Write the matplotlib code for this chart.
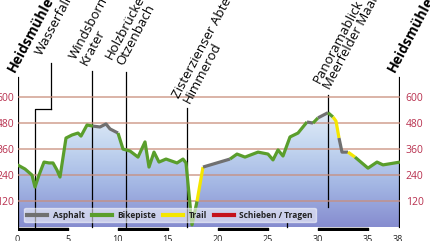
import numpy as np
import matplotlib.pyplot as plt
from matplotlib.lines import Line2D
from matplotlib.patches import Polygon
from matplotlib.colors import LinearSegmentedColormap

plt.rcParams['font.family'] = ['Open Sans', 'DejaVu Sans']

# Höhenprofil: Strecke in km, Höhe in m
profile_km = [0.0, 0.75, 1.45, 1.75, 2.15, 2.65, 3.15, 3.55, 3.95, 4.25,
              4.85, 5.45, 6.05, 6.35, 6.95, 7.55, 8.25, 8.85, 9.25, 10.05,
              10.55, 11.25, 12.05, 12.75, 13.15, 13.65, 14.15, 14.85, 15.95, 16.55,
              16.85, 17.45, 17.95, 18.55, 21.25, 21.95, 22.75, 24.05, 25.05, 25.55,
              26.05, 26.55, 27.25, 28.05, 28.95, 29.55, 30.05, 31.05, 31.55, 31.85,
              32.15, 32.45, 33.05, 33.75, 35.05, 35.95, 36.55, 38.25]
profile_elev = [288, 269, 241, 186, 241, 301, 297, 297, 264, 232,
                412, 426, 435, 421, 472, 467, 463, 477, 454, 435,
                361, 352, 324, 394, 278, 347, 301, 315, 297, 315,
                297, 11, 120, 278, 315, 338, 324, 347, 338, 311,
                357, 329, 417, 435, 486, 481, 505, 529, 509, 490,
                412, 347, 347, 324, 273, 301, 288, 301]
# Belag je Abschnitt (A=Asphalt, B=Bikepiste, T=Trail, S=Schieben)
surface = ('B' * 15 + 'A' * 4 + 'B' * 13 + 'T' + 'A' + 'B' * 10 + 'A' + 'B' + 'A' + 'B'
           + 'TT' + 'AA' + 'T' + 'B' * 4)

surface_keys = ['A', 'B', 'T', 'S']
surface_labels = ['Asphalt', 'Bikepiste', 'Trail', 'Schieben / Tragen']
surface_colors = ['#707070', '#5a9e2c', '#f4e600', '#c4121c']

# Orte
place_names = ['Heidsmühle', 'Wasserfall', 'Windsborn\nKrater', 'Holzbrücke\nOtzenbach',
               'Zisterzienser Abtei\nHimmerod', 'Panoramablick\nMeerfelder Maar', 'Heidsmühle']
place_km = [0.0, 3.35, 7.48, 10.82, 16.95, 31.05, 38.25]
place_top = [689, 758, 721, 717, 552, 611, 689]
place_bottom = [0, 544, 0, 0, 0, 94, 0]

km_ticks = [0, 5, 10, 15, 20, 25, 30, 35, 38]
elev_ticks = [120, 240, 360, 480, 600]

xmax = 38.25
ymin, ymax = -18, 1049

fig = plt.figure(figsize=(4.3, 2.41), dpi=100)
ax = fig.add_axes([17.5 / 430, (241 - 231.2) / 241, 382.5 / 430, 231.2 / 241])

# Verlaufsfüllung unter dem Profil
verts = list(zip(profile_km, profile_elev)) + [(profile_km[-1], 0), (profile_km[0], 0)]
poly = Polygon(verts, closed=True, facecolor='none', edgecolor='none')
ax.add_patch(poly)
cmap = LinearSegmentedColormap.from_list('fill', ['#868ccf', '#a2b5e3', '#c4d7f0', '#e8f0f9'])
grad = np.linspace(0, 1, 256).reshape(-1, 1)
im = ax.imshow(grad, extent=(0, xmax, 0, 560), origin='lower', cmap=cmap,
               aspect='auto', zorder=1)
im.set_clip_path(poly)

# Ortsmarkierungen
for i, name in enumerate(place_names):
    x = place_km[i]
    lw = 1.6 if name == 'Heidsmühle' else 0.9
    ax.plot([x, x], [place_bottom[i], place_top[i]], color='black', lw=lw, zorder=2)
# Wasserfall: Knick zur eigentlichen Stelle
ax.plot([place_km[1], 1.75, 1.75], [place_bottom[1], place_bottom[1], 0],
        color='black', lw=0.9, zorder=2)
# kleine Marke am Boden
ax.plot([26.95, 26.95], [0, 22], color='black', lw=0.9, zorder=2)

offsets = [(-3, 5), (-9, 7), (-5, 5), (-2, 6), (3, 3), (3, 5), (-5, 5)]
for i, name in enumerate(place_names):
    bold = name == 'Heidsmühle'
    dx, dy = offsets[i]
    ax.annotate(name, xy=(place_km[i], place_top[i]),
                xytext=(dx * 0.72, dy * 0.72), textcoords='offset points',
                rotation=62, rotation_mode='anchor', ha='left', va='baseline',
                fontsize=10 if bold else 9.5, fontweight='bold' if bold else 'normal',
                linespacing=0.92, multialignment='left', color='black',
                annotation_clip=False, zorder=5)

# Profil, Abschnitte nach Belag gefärbt
start = 0
for j in range(1, len(surface) + 1):
    if j == len(surface) or surface[j] != surface[start]:
        c = surface_colors[surface_keys.index(surface[start])]
        ax.plot(profile_km[start:j + 1], profile_elev[start:j + 1], color=c, lw=2.3,
                solid_capstyle='butt', solid_joinstyle='round', zorder=4)
        start = j

# Maßstabsleiste
ax.broken_barh([(k, 5) for k in km_ticks[:-1:2]], (-14.5, 10), color='black', zorder=3)

ax.set_xlim(0, xmax)
ax.set_ylim(ymin, ymax)
for s in ax.spines.values():
    s.set_visible(False)

ax.set_yticks(elev_ticks)
ax.yaxis.grid(True, color='#c98e7c', lw=1.1, alpha=0.85)
ax.set_axisbelow(False)
ax.tick_params(axis='y', length=0, pad=2.5, labelsize=7.5, labelcolor='#b8304e')
ax.set_xticks(km_ticks)
ax.tick_params(axis='x', length=0, pad=3, labelsize=6.5, labelcolor='#222222')

ax_r = ax.secondary_yaxis('right')
ax_r.set_yticks(elev_ticks)
ax_r.tick_params(length=0, pad=4, labelsize=7.5, labelcolor='#b8304e')
ax_r.spines['right'].set_visible(False)

handles = [Line2D([], [], color=c, lw=3) for c in surface_colors]
leg = ax.legend(handles, surface_labels, ncol=4, loc='center',
                bbox_to_anchor=(0.399, 0.07), prop={'weight': 'bold', 'size': 6},
                frameon=True, fancybox=True, framealpha=0.55, facecolor='white',
                edgecolor='white', handlelength=2.4, handletextpad=0.7,
                columnspacing=0.8, borderpad=0.35)
for t in leg.get_texts():
    t.set_color('#222222')
leg.set_zorder(6)

fig.savefig('out.png', dpi=100)
